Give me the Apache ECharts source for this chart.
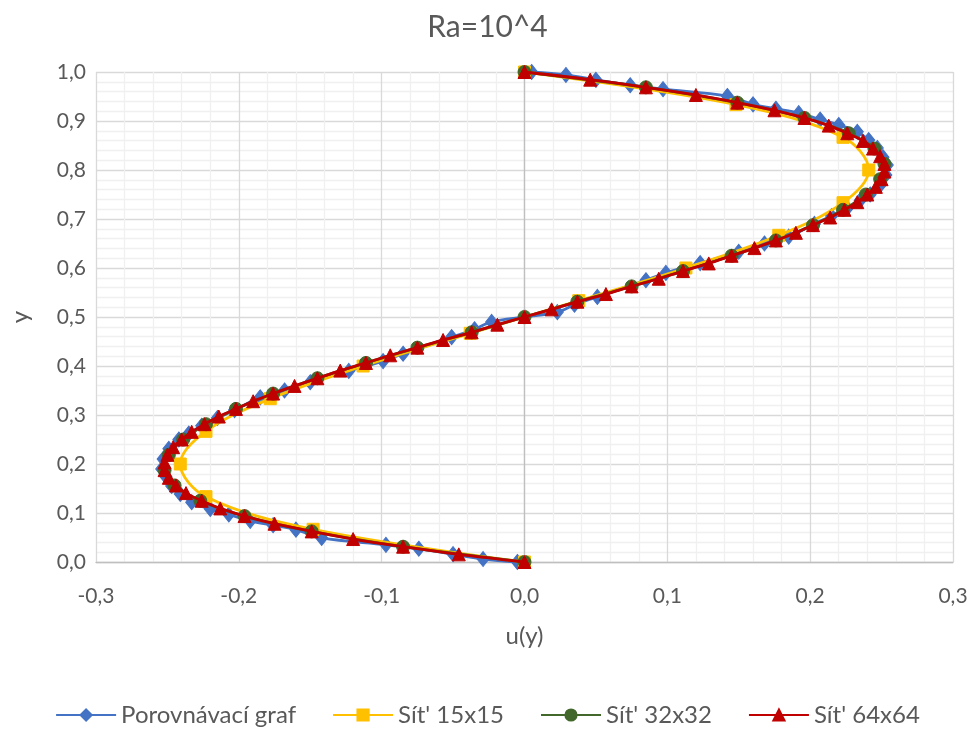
<!DOCTYPE html>
<html>
<head>
<meta charset="utf-8">
<script src="https://cdn.jsdelivr.net/npm/echarts@6/dist/echarts.min.js"></script>
<style>
html,body{margin:0;padding:0;background:#fff;}
#chart{width:975px;height:734px;}
</style>
</head>
<body>
<div id="chart"></div>
<script>
// ---- data (u, y) ----
const titleText = 'Ra=10^4';
const seriesNames = ['Porovnávací graf', "Sít' 15x15", "Sít' 32x32", "Sít' 64x64"];
const xTicks = [-0.3, -0.2, -0.1, 0.0, 0.1, 0.2, 0.3];
const yTicks = [0.0, 0.1, 0.2, 0.3, 0.4, 0.5, 0.6, 0.7, 0.8, 0.9, 1.0];

// Porovnávací graf (comparison data)
const refY = [0.0, 0.006, 0.016, 0.027, 0.035, 0.049, 0.066, 0.075, 0.084, 0.097, 0.108, 0.122, 0.139, 0.155, 0.174, 0.190, 0.210, 0.231, 0.250, 0.262, 0.278, 0.294, 0.310, 0.336, 0.350, 0.367, 0.390, 0.410, 0.425, 0.459, 0.475, 0.490,
              0.5,
              0.510, 0.525, 0.541, 0.575, 0.590, 0.610, 0.633, 0.650, 0.664, 0.690, 0.706, 0.722, 0.738, 0.750, 0.769, 0.790, 0.810, 0.826, 0.845, 0.861, 0.878, 0.892, 0.903, 0.916, 0.925, 0.934, 0.951, 0.965, 0.973, 0.984, 0.994, 1.0];
const refU = [-0.005, -0.029, -0.050, -0.074, -0.097, -0.142, -0.160, -0.176, -0.192, -0.207, -0.220, -0.233, -0.241, -0.247, -0.251, -0.254, -0.253, -0.249, -0.242, -0.235, -0.226, -0.215, -0.203, -0.185, -0.168, -0.150, -0.123, -0.099, -0.085, -0.051, -0.035, -0.023,
              0.0,
              0.023, 0.035, 0.051, 0.085, 0.099, 0.123, 0.150, 0.168, 0.185, 0.203, 0.215, 0.226, 0.235, 0.242, 0.249, 0.253, 0.254, 0.251, 0.247, 0.241, 0.233, 0.220, 0.207, 0.192, 0.176, 0.160, 0.142, 0.097, 0.074, 0.050, 0.029, 0.005];

// Sít' 15x15
const g15Y = [0.0, 0.0667, 0.1333, 0.2, 0.2667, 0.3333, 0.4, 0.4667, 0.5333, 0.6, 0.6667, 0.7333, 0.8, 0.8667, 0.9333, 1.0];
const g15U = [0.0, -0.148, -0.223, -0.241, -0.223, -0.178, -0.113, -0.038, 0.038, 0.113, 0.178, 0.223, 0.241, 0.223, 0.148, 0.0];

// Sít' 32x32
const g32Y = [0.0, 0.03125, 0.0625, 0.09375, 0.125, 0.15625, 0.1875, 0.21875, 0.25, 0.28125, 0.3125, 0.34375, 0.375, 0.40625, 0.4375, 0.46875,
              0.5, 0.53125, 0.5625, 0.59375, 0.625, 0.65625, 0.6875, 0.71875, 0.75, 0.78125, 0.8125, 0.84375, 0.875, 0.90625, 0.9375, 0.96875, 1.0];
const g32U = [0.0, -0.085, -0.149, -0.196, -0.227, -0.245, -0.252, -0.249, -0.239, -0.223, -0.202, -0.176, -0.145, -0.111, -0.075, -0.037,
              0.0, 0.037, 0.075, 0.111, 0.145, 0.176, 0.202, 0.223, 0.239, 0.249, 0.252, 0.245, 0.227, 0.196, 0.149, 0.085, 0.0];

// Sít' 64x64
const g64Y = [0.0, 0.015625, 0.03125, 0.046875, 0.0625, 0.078125, 0.09375, 0.109375, 0.125, 0.140625, 0.15625, 0.171875, 0.1875, 0.203125, 0.21875, 0.234375,
              0.25, 0.265625, 0.28125, 0.296875, 0.3125, 0.328125, 0.34375, 0.359375, 0.375, 0.390625, 0.40625, 0.421875, 0.4375, 0.453125, 0.46875, 0.484375,
              0.5, 0.515625, 0.53125, 0.546875, 0.5625, 0.578125, 0.59375, 0.609375, 0.625, 0.640625, 0.65625, 0.671875, 0.6875, 0.703125, 0.71875, 0.734375,
              0.75, 0.765625, 0.78125, 0.796875, 0.8125, 0.828125, 0.84375, 0.859375, 0.875, 0.890625, 0.90625, 0.921875, 0.9375, 0.953125, 0.96875, 0.984375, 1.0];
const g64U = [0.0, -0.046, -0.085, -0.120, -0.149, -0.175, -0.196, -0.213, -0.226, -0.237, -0.244, -0.249, -0.252, -0.252, -0.250, -0.246,
              -0.240, -0.233, -0.224, -0.214, -0.202, -0.190, -0.176, -0.161, -0.145, -0.129, -0.111, -0.094, -0.075, -0.057, -0.037, -0.019,
              0.0, 0.019, 0.037, 0.057, 0.075, 0.094, 0.111, 0.129, 0.145, 0.161, 0.176, 0.190, 0.202, 0.214, 0.224, 0.233,
              0.240, 0.246, 0.250, 0.252, 0.252, 0.249, 0.244, 0.237, 0.226, 0.213, 0.196, 0.175, 0.149, 0.120, 0.085, 0.046, 0.0];

const colors = ['#4472C4', '#FFC000', '#43682B', '#C00000'];

function pairs(us, ys) { return us.map((u, i) => [u, ys[i]]); }
function fmt(v) { return v.toFixed(1).replace('.', ','); }

const FONT = 'Lato, Open Sans, sans-serif';
const TXT = '#595959';

const chart = echarts.init(document.getElementById('chart'), null, { renderer: 'canvas' });

function mk(name, data, color, symbol, size, z) {
  return {
    name: name, type: 'line', data: data, smooth: 0.35,
    symbol: symbol, symbolSize: size, showSymbol: true,
    lineStyle: { color: color, width: 2.8 },
    itemStyle: { color: color, borderColor: color, borderWidth: 1 },
    z: z, animation: false, clip: false
  };
}

const s0 = mk(seriesNames[0], pairs(refU, refY), colors[0], 'diamond', [12, 15], 2);
s0.markLine = {
  silent: true, symbol: ['none', 'none'], animation: false,
  lineStyle: { color: '#BFBFBF', width: 1.3, type: 'solid' },
  label: { show: false },
  data: [{ xAxis: 0 }]
};

chart.setOption({
  animation: false,
  color: colors,
  title: {
    text: titleText, left: 'center', top: 7,
    textStyle: { fontFamily: FONT, fontSize: 30, fontWeight: 'normal', color: TXT }
  },
  grid: { left: 96, right: 22, top: 72, bottom: 172 },
  legend: {
    bottom: 2, left: 'center', itemWidth: 60, itemHeight: 14, itemGap: 36,
    textStyle: { fontFamily: FONT, fontSize: 24, color: TXT },
    data: seriesNames
  },
  xAxis: {
    type: 'value', min: -0.3, max: 0.3, interval: 0.1,
    name: 'u(y)', nameLocation: 'middle', nameGap: 62,
    nameTextStyle: { fontFamily: FONT, fontSize: 24, color: TXT },
    axisLine: { show: true, onZero: false, lineStyle: { color: '#BFBFBF', width: 1.3 } },
    axisTick: { show: false },
    axisLabel: { fontFamily: FONT, fontSize: 21, color: TXT, margin: 24, formatter: fmt },
    splitLine: { show: true, lineStyle: { color: '#D9D9D9', width: 1.3 } },
    minorTick: { show: false, splitNumber: 5 },
    minorSplitLine: { show: true, lineStyle: { color: '#F0F0F0', width: 1.3 } }
  },
  yAxis: {
    type: 'value', min: 0, max: 1, interval: 0.1,
    name: 'y', nameLocation: 'middle', nameGap: 64, nameRotate: 90,
    nameTextStyle: { fontFamily: FONT, fontSize: 24, color: TXT },
    axisLine: { show: false },
    axisTick: { show: false },
    axisLabel: { fontFamily: FONT, fontSize: 21, color: TXT, margin: 10, formatter: fmt },
    splitLine: { show: true, lineStyle: { color: '#D9D9D9', width: 1.3 } },
    minorTick: { show: false, splitNumber: 5 },
    minorSplitLine: { show: true, lineStyle: { color: '#F0F0F0', width: 1.3 } }
  },
  series: [
    s0,
    mk(seriesNames[1], pairs(g15U, g15Y), colors[1], 'rect', 12, 3),
    mk(seriesNames[2], pairs(g32U, g32Y), colors[2], 'circle', 13, 4),
    mk(seriesNames[3], pairs(g64U, g64Y), colors[3], 'triangle', 13, 5)
  ]
});
</script>
</body>
</html>
